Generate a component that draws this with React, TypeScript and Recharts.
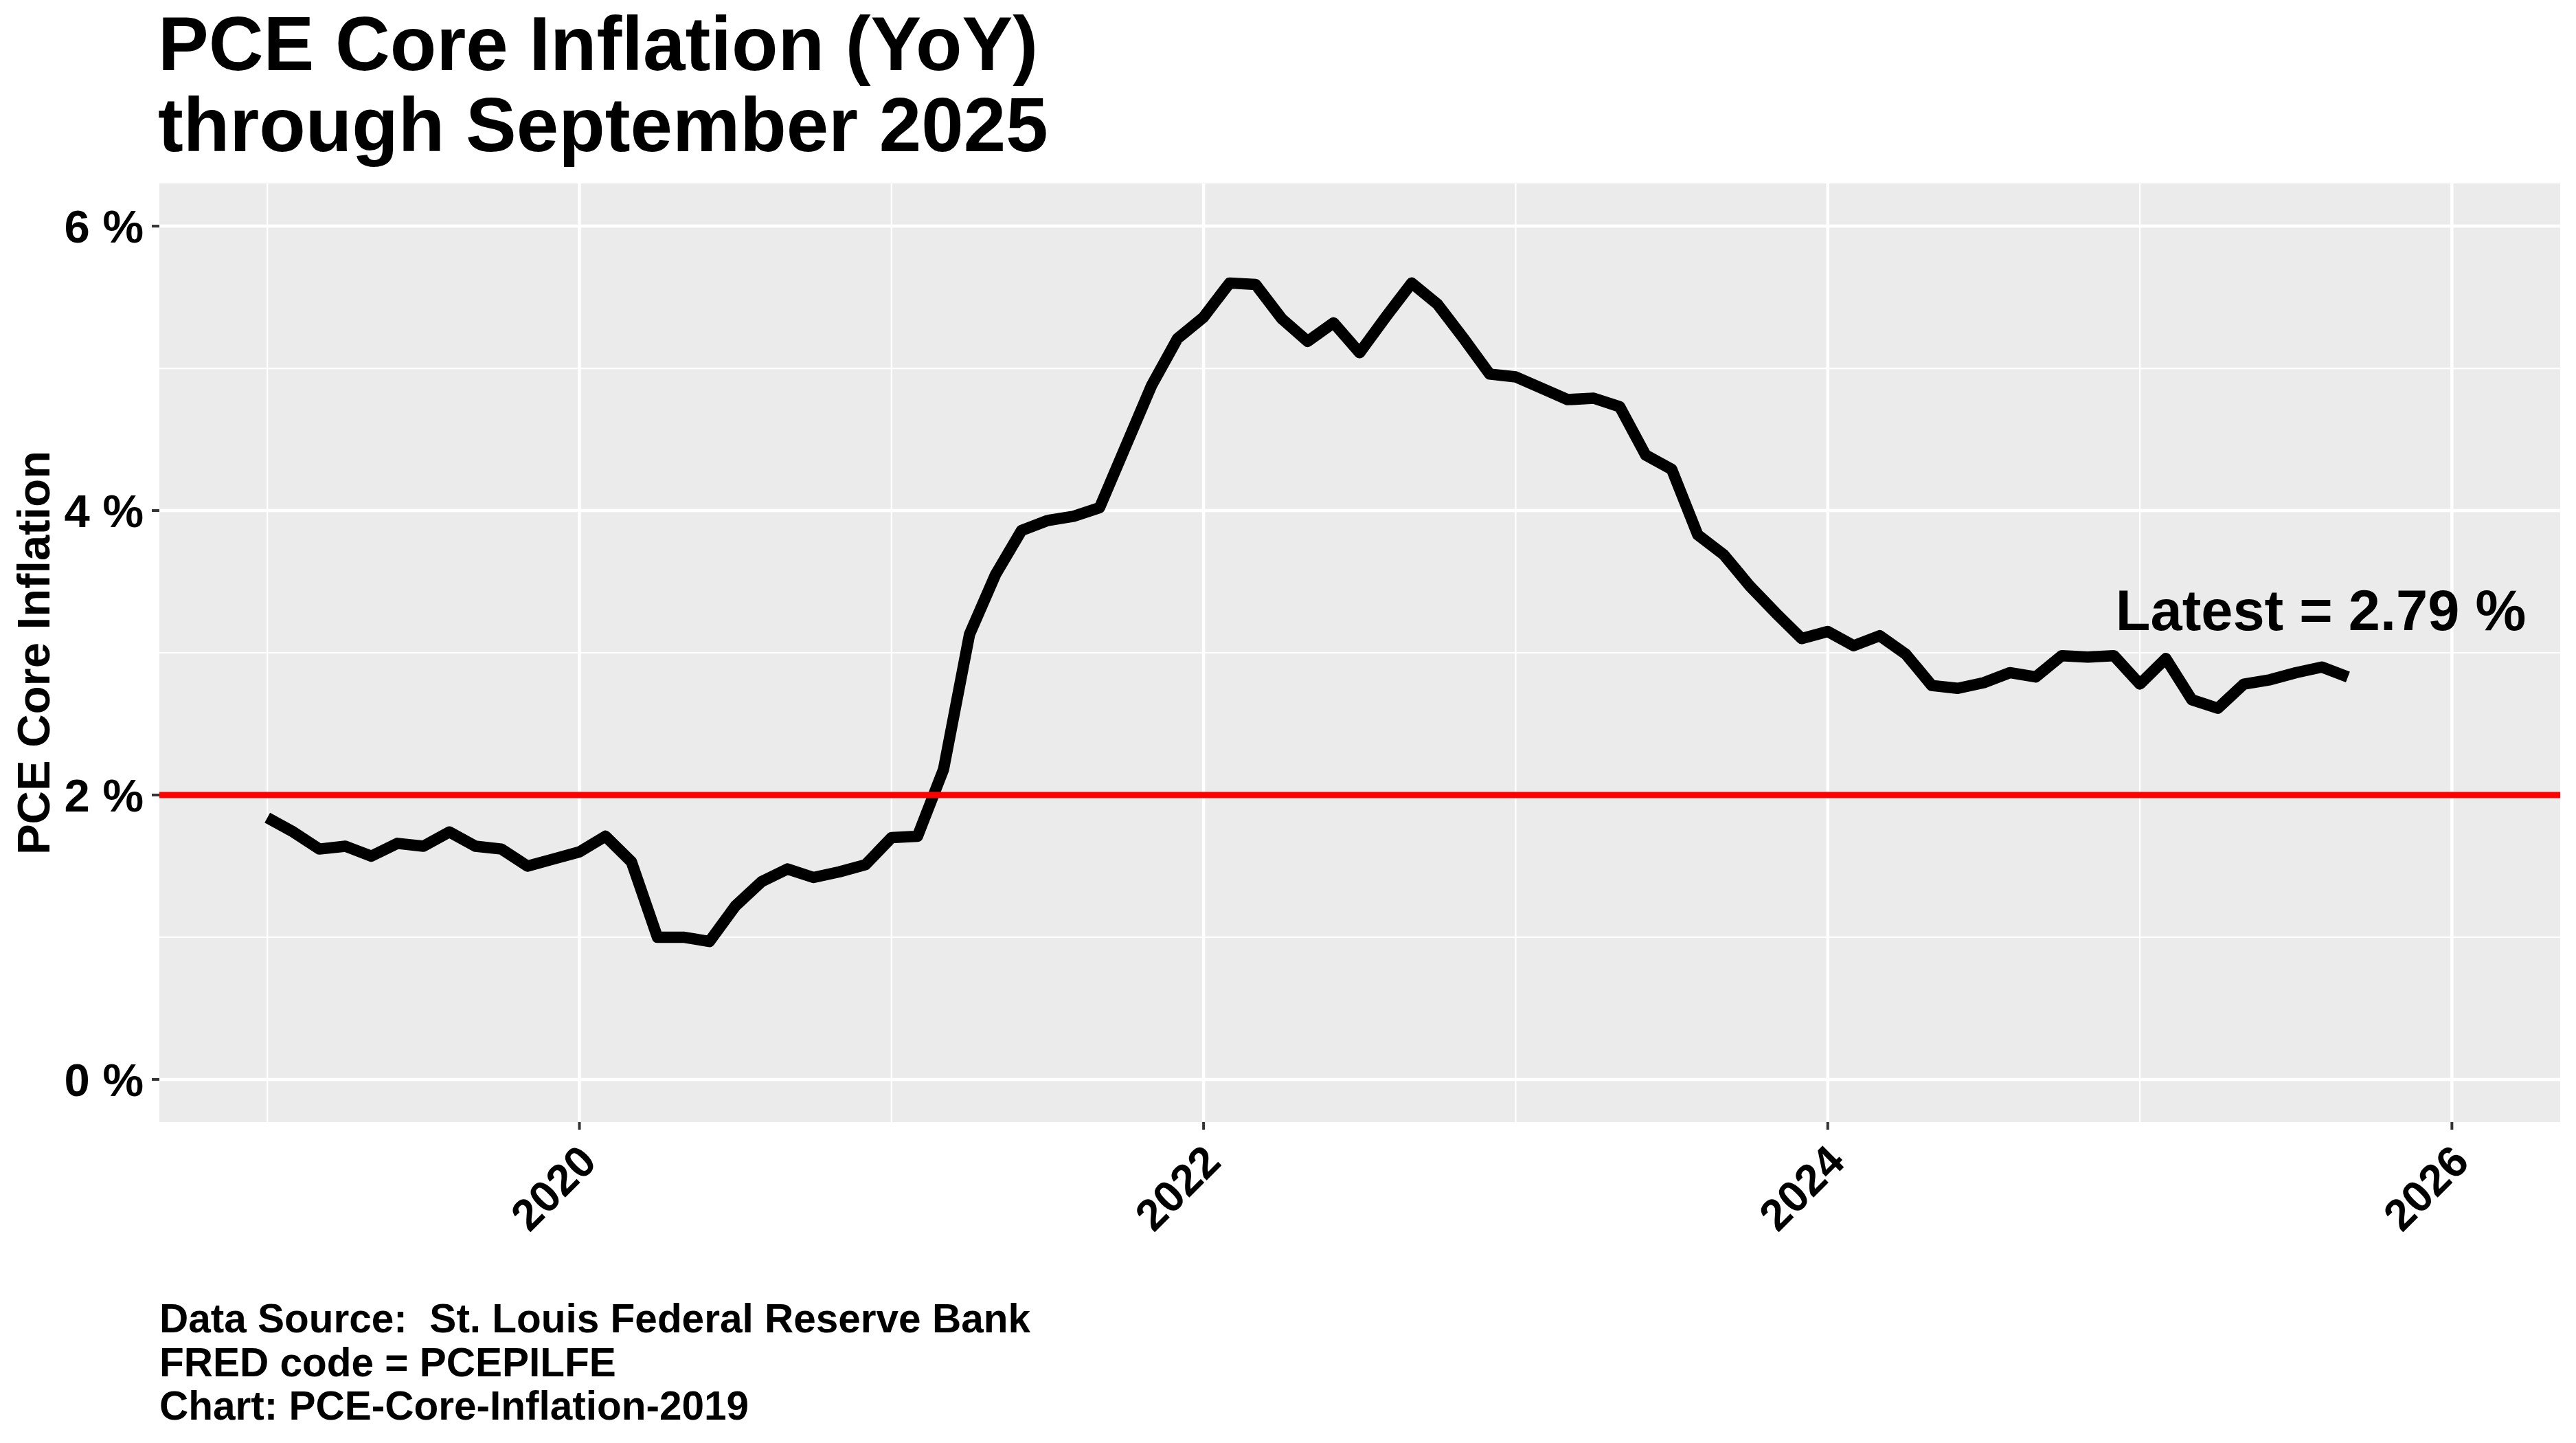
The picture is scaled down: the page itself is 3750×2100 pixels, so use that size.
import React from 'react';
import {
  LineChart,
  Line,
  XAxis,
  YAxis,
  CartesianGrid,
  ReferenceLine,
  ReferenceDot,
} from 'recharts';

// Core PCE inflation, year over year, Jan 2019 .. Sep 2025
const years = [2019, 2020, 2021, 2022, 2023, 2024, 2025];

const inflation2019 = [1.84, 1.74, 1.62, 1.64, 1.57, 1.66, 1.64, 1.74, 1.64, 1.62, 1.5, 1.55];
const inflation2020 = [1.6, 1.71, 1.53, 1.0, 1.0, 0.97, 1.22, 1.39, 1.48, 1.42, 1.46, 1.51];
const inflation2021 = [1.7, 1.71, 2.18, 3.13, 3.55, 3.86, 3.93, 3.96, 4.02, 4.45, 4.88, 5.21];
const inflation2022 = [5.36, 5.6, 5.59, 5.35, 5.19, 5.32, 5.11, 5.36, 5.6, 5.45, 5.21, 4.96];
const inflation2023 = [4.94, 4.86, 4.78, 4.79, 4.73, 4.39, 4.29, 3.83, 3.69, 3.47, 3.28, 3.1];
const inflation2024 = [3.15, 3.05, 3.12, 2.99, 2.77, 2.75, 2.79, 2.86, 2.83, 2.98, 2.97, 2.98];
const inflation2025 = [2.78, 2.96, 2.67, 2.61, 2.78, 2.81, 2.86, 2.9, 2.83];

const yearlyValues = [
  inflation2019,
  inflation2020,
  inflation2021,
  inflation2022,
  inflation2023,
  inflation2024,
  inflation2025,
];

const yMajorTicks = [0, 2, 4, 6];
const yMinorTicks = [1, 3, 5];
const xMajorTicks = [2020, 2022, 2024, 2026];
const xMinorTicks = [2019, 2021, 2023, 2025];

const target = 2;
const latestLabel = 'Latest = 2.79 %';
const latestLabelAt = { x: 2025.58, y: 3.3 };

const titleLines = ['PCE Core Inflation (YoY)', 'through September 2025'];
const yTitle = 'PCE Core Inflation';
const captionLines = [
  'Data Source:  St. Louis Federal Reserve Bank',
  'FRED code = PCEPILFE',
  'Chart: PCE-Core-Inflation-2019',
];

// month index -> fractional year, so the x axis works like a date axis
const data = yearlyValues.flatMap((vals, i) =>
  vals.map((v, m) => ({ t: years[i] + m / 12, value: v }))
);

const FONT = '"Liberation Sans", Arial, Helvetica, sans-serif';

const XTick = (props: any) => {
  const { x, y, payload } = props;
  const px = x + 28;
  const py = y + 48;
  return (
    <text
      x={px}
      y={py}
      transform={`rotate(-45 ${px} ${py})`}
      textAnchor="end"
      fontFamily={FONT}
      fontWeight="bold"
      fontSize={64}
      fill="#000"
    >
      {payload.value}
    </text>
  );
};

const App: React.FC = () => {
  return (
    <div
      style={{
        position: 'absolute',
        left: 0,
        top: 0,
        width: 3750,
        height: 2100,
        background: '#fff',
        overflow: 'hidden',
      }}
    >
      <div style={{ position: 'absolute', left: 0, top: 0 }}>
        <LineChart
          width={3750}
          height={2100}
          data={data}
          margin={{ top: 267, right: 23, bottom: 367, left: 132 }}
        >
          {/* minor grid with panel background */}
          <CartesianGrid
            fill="#EBEBEB"
            stroke="#FFFFFF"
            strokeWidth={2.2}
            horizontalValues={yMinorTicks}
            verticalValues={xMinorTicks}
          />
          {/* major grid */}
          <CartesianGrid
            stroke="#FFFFFF"
            strokeWidth={4.5}
            horizontalValues={yMajorTicks}
            verticalValues={xMajorTicks}
          />
          <XAxis
            type="number"
            dataKey="t"
            domain={[2018.654, 2026.347]}
            ticks={xMajorTicks}
            allowDataOverflow
            height={100}
            axisLine={false}
            tickLine={{ stroke: '#333333', strokeWidth: 4 }}
            tickSize={11}
            tickMargin={2}
            tick={<XTick />}
            interval={0}
          />
          <YAxis
            type="number"
            domain={[-0.3, 6.3]}
            ticks={yMajorTicks}
            allowDataOverflow
            width={100}
            axisLine={false}
            tickLine={{ stroke: '#333333', strokeWidth: 4 }}
            tickSize={11}
            tickMargin={12}
            tickFormatter={(v: number) => `${v} %`}
            tick={{ fill: '#000', fontSize: 67, fontWeight: 'bold', fontFamily: FONT }}
            interval={0}
          />
          <Line
            type="linear"
            dataKey="value"
            stroke="#000000"
            strokeWidth={16.5}
            strokeLinejoin="round"
            strokeLinecap="butt"
            dot={false}
            activeDot={false}
            isAnimationActive={false}
          />
          <ReferenceLine y={target} stroke="#FF0000" strokeWidth={9} />
          <ReferenceDot
            x={latestLabelAt.x}
            y={latestLabelAt.y}
            r={0}
            fill="none"
            stroke="none"
            label={{
              value: latestLabel,
              position: 'center',
              fill: '#000',
              fontSize: 83,
              fontWeight: 'bold',
              fontFamily: FONT,
            }}
          />
        </LineChart>
      </div>

      <svg
        width={3750}
        height={2100}
        style={{ position: 'absolute', left: 0, top: 0, pointerEvents: 'none' }}
      >
        {titleLines.map((line, i) => (
          <text
            key={line}
            x={230}
            y={102 + i * 118}
            fontFamily={FONT}
            fontWeight="bold"
            fontSize={110.5}
            fill="#000"
          >
            {line}
          </text>
        ))}
        <text
          transform="translate(72 950) rotate(-90)"
          textAnchor="middle"
          fontFamily={FONT}
          fontWeight="bold"
          fontSize={67}
          fill="#000"
        >
          {yTitle}
        </text>
        {captionLines.map((line, i) => (
          <text
            key={line}
            x={232}
            y={1939 + i * 63.5}
            fontFamily={FONT}
            fontWeight="bold"
            fontSize={58.5}
            fill="#000"
            style={{ whiteSpace: 'pre' }}
          >
            {line}
          </text>
        ))}
      </svg>
    </div>
  );
};

export default App;
